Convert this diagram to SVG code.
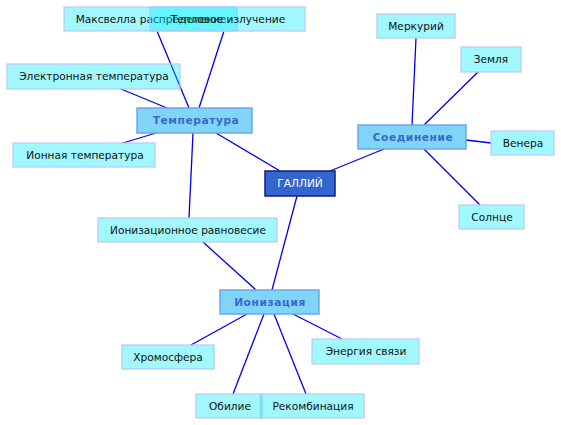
<svg xmlns="http://www.w3.org/2000/svg" width="561" height="425" viewBox="0 0 561 425">
<style>
.leaf rect{fill:#00eeff;fill-opacity:0.37;stroke:#b8c8f4;stroke-opacity:0.8;stroke-width:1.5}
.leaf text{font-family:"DejaVu Sans",sans-serif;font-size:10.6px;fill:#111;text-anchor:middle}
.mid rect{fill:#80d4f8;stroke:#6ea6e6;stroke-width:1.5}
.mid text{font-family:"DejaVu Sans",sans-serif;font-size:10.6px;font-weight:bold;fill:#3868cc;text-anchor:middle;letter-spacing:0.6px}
.root rect{fill:#3366cc;stroke:#1a1a88;stroke-width:1.5}
.root text{font-family:"DejaVu Sans",sans-serif;font-size:10.6px;fill:#fff;text-anchor:middle}
#edges line{stroke:#0000ee;stroke-width:1.3}
</style>
<rect width="561" height="425" fill="#fff"/>
<g id="edges">
<line x1="157" y1="31" x2="189" y2="108"/>
<line x1="224" y1="31" x2="199" y2="108"/>
<line x1="121" y1="89" x2="167" y2="108"/>
<line x1="123" y1="143" x2="156" y2="133"/>
<line x1="193" y1="133" x2="189" y2="218"/>
<line x1="216" y1="133" x2="280" y2="171"/>
<line x1="330" y1="171" x2="384" y2="149"/>
<line x1="466" y1="140" x2="491" y2="143"/>
<line x1="424" y1="149" x2="480" y2="205"/>
<line x1="416" y1="38" x2="412" y2="125"/>
<line x1="478" y1="72" x2="424" y2="125"/>
<line x1="297" y1="196" x2="272" y2="290"/>
<line x1="203" y1="242" x2="256" y2="290"/>
<line x1="247" y1="314" x2="191" y2="345"/>
<line x1="293" y1="314" x2="342" y2="339"/>
<line x1="264" y1="314" x2="233" y2="394"/>
<line x1="274" y1="314" x2="306" y2="394"/>
</g>
<g id="n-maxwell" class="leaf"><rect x="64" y="7" width="173" height="24"/><text x="151" y="23">Максвелла распределение</text></g>
<g id="n-thermal" class="leaf"><rect x="150" y="7" width="155" height="24"/><text x="228" y="23">Тепловое излучение</text></g>
<g id="n-electron" class="leaf"><rect x="7" y="64" width="173" height="25"/><text x="94" y="80">Электронная температура</text></g>
<g id="n-ion-temp" class="leaf"><rect x="13" y="143" width="142" height="24"/><text x="85" y="159">Ионная температура</text></g>
<g id="n-temp" class="mid"><rect x="137" y="108" width="115" height="25"/><text x="196" y="124">Температура</text></g>
<g id="n-root" class="root"><rect x="265" y="171" width="70" height="25"/><text x="300" y="187">ГАЛЛИЙ</text></g>
<g id="n-compound" class="mid"><rect x="358" y="125" width="108" height="24"/><text x="413" y="141">Соединение</text></g>
<g id="n-mercury" class="leaf"><rect x="377" y="14" width="78" height="24"/><text x="416" y="30">Меркурий</text></g>
<g id="n-earth" class="leaf"><rect x="461" y="47" width="60" height="25"/><text x="491" y="63">Земля</text></g>
<g id="n-venus" class="leaf"><rect x="491" y="131" width="63" height="24"/><text x="523" y="147">Венера</text></g>
<g id="n-sun" class="leaf"><rect x="459" y="205" width="65" height="24"/><text x="492" y="221">Солнце</text></g>
<g id="n-ion-eq" class="leaf"><rect x="98" y="218" width="179" height="24"/><text x="188" y="234">Ионизационное равновесие</text></g>
<g id="n-ionization" class="mid"><rect x="220" y="290" width="99" height="24"/><text x="270" y="306">Ионизация</text></g>
<g id="n-chromo" class="leaf"><rect x="122" y="345" width="92" height="24"/><text x="168" y="361">Хромосфера</text></g>
<g id="n-binding" class="leaf"><rect x="312" y="339" width="107" height="25"/><text x="366" y="355">Энергия связи</text></g>
<g id="n-abundance" class="leaf"><rect x="196" y="394" width="66" height="24"/><text x="230" y="410">Обилие</text></g>
<g id="n-recomb" class="leaf"><rect x="260" y="394" width="104" height="24"/><text x="313" y="410">Рекомбинация</text></g>
</svg>
